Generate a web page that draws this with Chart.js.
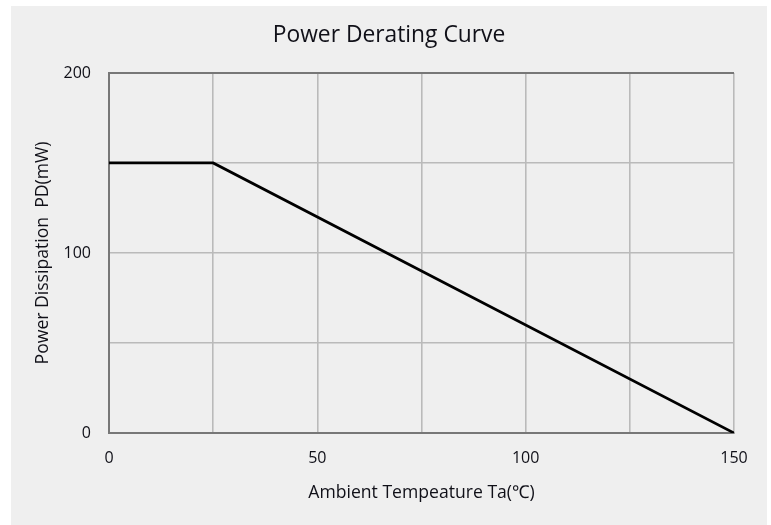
<!DOCTYPE html>
<html>
<head>
<meta charset="utf-8">
<script src="https://cdn.jsdelivr.net/npm/chart.js@4"></script>
<style>
html,body{margin:0;padding:0;background:#ffffff;}
#wrap{position:absolute;left:0;top:0;width:771px;height:525px;}
</style>
</head>
<body>
<div id="wrap"><canvas id="c" width="771" height="525"></canvas></div>
<script>
// Data
const temperatures = [0, 25, 150];          // Ambient temperature Ta (°C)
const powerValues = [150, 150, 0];         // Power dissipation PD (mW)
const xTickLabels = [0, 50, 100, 150];
const yTickLabels = [0, 100, 200];

const FONT = "'Open Sans', 'Noto Sans', sans-serif";
const TEXT = '#101018';
const GRID = '#bababa';
const AXIS = '#777777';

const bgPlugin = {
  id: 'bg',
  beforeDraw(chart) {
    const ctx = chart.ctx;
    ctx.save();
    ctx.fillStyle = '#efefef';
    ctx.fillRect(11, 6, 756, 519);
    ctx.restore();
  }
};

new Chart(document.getElementById('c'), {
  type: 'line',
  data: {
    datasets: [{
      data: temperatures.map((t, i) => ({x: t, y: powerValues[i]})),
      borderColor: '#000000',
      borderWidth: 2.7,
      pointRadius: 0,
      tension: 0,
      fill: false
    }]
  },
  plugins: [bgPlugin],
  options: {
    responsive: false,
    animation: false,
    layout: {padding: {left: 7, right: 0, top: 0, bottom: 0}},
    plugins: {
      legend: {display: false},
      tooltip: {enabled: false},
      title: {
        display: true,
        text: 'Power Derating Curve',
        color: TEXT,
        font: {family: FONT, size: 22.8, weight: 'normal', lineHeight: 1.2},
        padding: {top: 21.5, bottom: 24.1}
      }
    },
    scales: {
      x: {
        type: 'linear',
        min: 0, max: 150,
        ticks: {
          stepSize: 25,
          color: TEXT,
          font: {family: FONT, size: 16, lineHeight: 1.2},
          padding: 16,
          maxRotation: 0,
          autoSkip: false,
          callback: v => xTickLabels.includes(v) ? String(v) : ''
        },
        grid: {color: GRID, lineWidth: 1.6, drawTicks: false},
        border: {color: AXIS, width: 2},
        title: {
          display: true,
          text: 'Ambient Tempeature Ta(℃)',
          color: TEXT,
          font: {family: FONT, size: 17.6, lineHeight: 1.2},
          padding: {top: 0, bottom: 21.5}
        },
        afterFit(scale) { scale.height = 92; }
      },
      y: {
        type: 'linear',
        min: 0, max: 200,
        ticks: {
          stepSize: 50,
          color: TEXT,
          font: {family: FONT, size: 16},
          padding: 18,
          autoSkip: false,
          callback: v => yTickLabels.includes(v) ? String(v) : ''
        },
        grid: {
          color: ctx => (ctx.tick && ctx.tick.value === 200) ? AXIS : GRID,
          lineWidth: ctx => (ctx.tick && ctx.tick.value === 200) ? 2 : 1.6,
          drawTicks: false
        },
        border: {color: AXIS, width: 2},
        title: {
          display: true,
          text: 'Power Dissipation  PD(mW)',
          color: TEXT,
          font: {family: FONT, size: 17.6, lineHeight: 1.2},
          padding: {top: 25, bottom: 0}
        },
        afterFit(scale) { scale.width = 102; }
      },
      yRight: {
        type: 'linear',
        position: 'right',
        display: true,
        min: 0, max: 200,
        ticks: {display: false},
        grid: {display: false, drawTicks: false},
        border: {display: false},
        afterFit(scale) { scale.width = 37; }
      }
    }
  }
});
</script>
</body>
</html>
